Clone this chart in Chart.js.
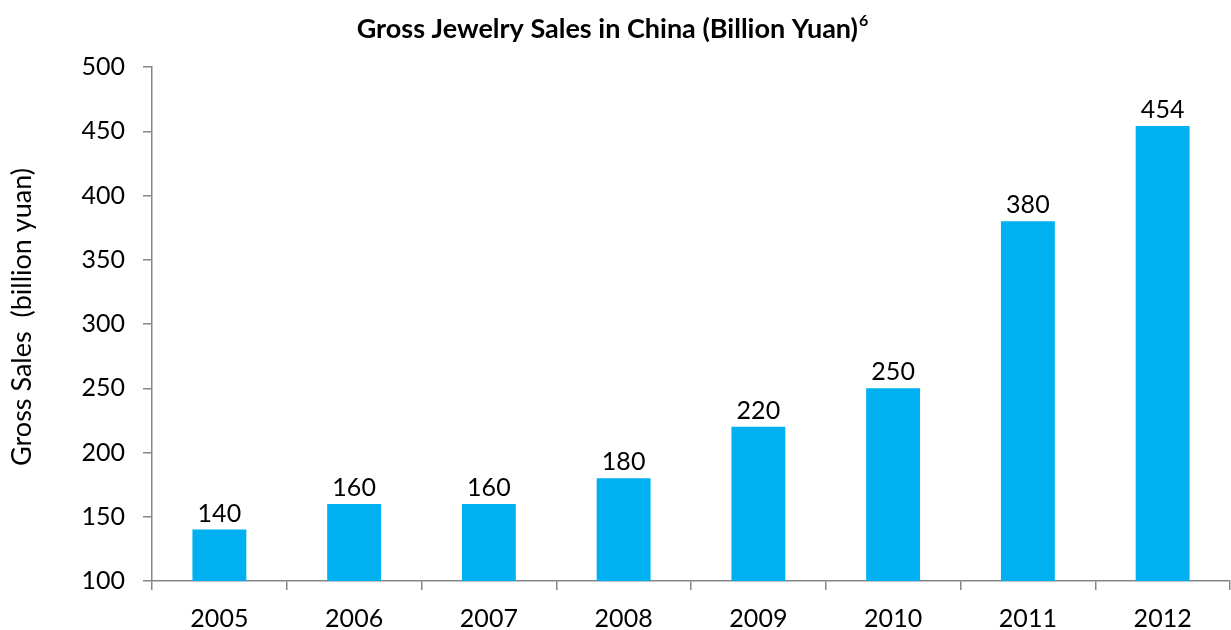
<!DOCTYPE html>
<html>
<head>
<meta charset="utf-8">
<script src="https://cdn.jsdelivr.net/npm/chart.js@4/dist/chart.umd.min.js"></script>
<style>
  html, body { margin: 0; background: #fff; }
  #wrap { width: 1231px; height: 630px; }
</style>
</head>
<body>
<div id="wrap"><canvas id="salesChart"></canvas></div>
<script>
const years = ["2005", "2006", "2007", "2008", "2009", "2010", "2011", "2012"];
const sales = [140, 160, 160, 180, 220, 250, 380, 454];
const yMin = 100, yMax = 500, yStep = 50;

const titleText = "Gross Jewelry Sales in China (Billion Yuan)";
const titleNote = "6";
const yTitle = "Gross Sales  (billion yuan)";

const FONT = "Lato, 'Open Sans', sans-serif";
const AXIS = "#868686";
const BAR = "#00B0F0";

// title with footnote mark, rotated axis title, value labels over bars
const decorations = {
  id: "decorations",
  afterDraw(chart) {
    const ctx = chart.ctx;
    ctx.save();
    ctx.fillStyle = "#000";

    ctx.font = "bold 27px " + FONT;
    const mainW = ctx.measureText(titleText).width;
    ctx.font = "bold 16px " + FONT;
    const noteW = ctx.measureText(titleNote).width;
    const startX = 612 - (mainW + noteW) / 2;
    ctx.textBaseline = "alphabetic";
    ctx.textAlign = "left";
    ctx.font = "bold 27px " + FONT;
    ctx.fillText(titleText, startX, 38);
    ctx.font = "bold 16px " + FONT;
    ctx.fillText(titleNote, startX + mainW + 1, 26);

    ctx.font = "27px " + FONT;
    ctx.translate(22, 317);
    ctx.rotate(-Math.PI / 2);
    ctx.textAlign = "center";
    ctx.textBaseline = "middle";
    ctx.fillText(yTitle, 0, 0);
    ctx.restore();

    ctx.save();
    ctx.font = "25px " + FONT;
    ctx.fillStyle = "#000";
    ctx.textAlign = "center";
    ctx.textBaseline = "alphabetic";
    const meta = chart.getDatasetMeta(0);
    meta.data.forEach((bar, i) => {
      ctx.fillText(String(sales[i]), bar.x, bar.y - 8);
    });
    ctx.restore();
  }
};

new Chart(document.getElementById("salesChart"), {
  type: "bar",
  data: {
    labels: years,
    datasets: [{
      data: sales,
      backgroundColor: BAR,
      borderWidth: 0,
      barPercentage: 0.4,
      categoryPercentage: 1
    }]
  },
  options: {
    responsive: true,
    maintainAspectRatio: false,
    animation: false,
    layout: { padding: { top: 67, right: 1, left: 0, bottom: 0 } },
    plugins: {
      legend: { display: false },
      title: { display: false },
      tooltip: { enabled: false }
    },
    scales: {
      x: {
        afterFit: s => { s.height = 49; },
        border: { color: AXIS, width: 1.5 },
        grid: { drawOnChartArea: false, drawTicks: true, tickLength: 9, color: AXIS, lineWidth: 1.5 },
        ticks: { color: "#000", font: { family: FONT, size: 25 }, padding: 14, maxRotation: 0 }
      },
      y: {
        min: yMin,
        max: yMax,
        afterFit: s => { s.width = 152; },
        border: { color: AXIS, width: 1.5 },
        grid: { drawOnChartArea: false, drawTicks: true, tickLength: 9, color: AXIS, lineWidth: 1.5 },
        ticks: { stepSize: yStep, color: "#000", font: { family: FONT, size: 25 }, padding: 18 }
      }
    }
  },
  plugins: [decorations]
});
</script>
</body>
</html>
